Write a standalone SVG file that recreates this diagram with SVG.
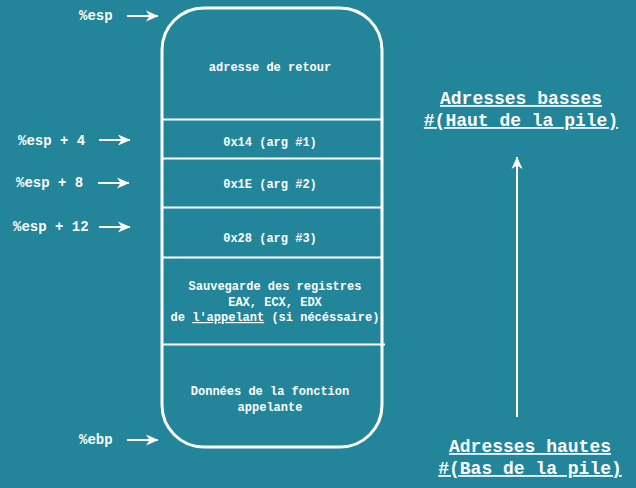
<svg xmlns="http://www.w3.org/2000/svg" width="636" height="488" viewBox="0 0 636 488">
<defs>
<marker id="ah" markerWidth="13" markerHeight="12" refX="12" refY="6" orient="auto" markerUnits="userSpaceOnUse">
<path d="M0,0.5 L12.5,6 L0,11.5 L3.5,6 Z" fill="#ffffff"/>
</marker>
<style>
.t{font-family:"Liberation Mono","DejaVu Sans Mono",monospace;font-weight:bold;fill:#ffffff;}
.s{font-size:12px;text-anchor:middle;}
.l{font-size:14px;}
.h{font-size:18px;text-anchor:middle;text-decoration:underline;}
.ln{stroke:#ffffff;stroke-width:2;fill:none;}
.ar{stroke:#ffffff;stroke-width:2;fill:none;marker-end:url(#ah);}
</style>
</defs>
<rect x="0" y="0" width="636" height="488" fill="#22859a"/>
<g id="stack">
<rect x="162" y="8" width="220" height="439" rx="42" ry="42" stroke="#ffffff" stroke-width="3" fill="none"/>
<line class="ln" x1="162" y1="119.5" x2="382" y2="119.5"/>
<line class="ln" x1="162" y1="158.5" x2="382" y2="158.5"/>
<line class="ln" x1="162" y1="207.5" x2="382" y2="207.5"/>
<line class="ln" x1="162" y1="257.5" x2="382" y2="257.5"/>
<line class="ln" x1="162" y1="344.5" x2="385" y2="344.5"/>
</g>
<g id="cell-retour"><text class="t s" x="270" y="71">adresse de retour</text></g>
<g id="cell-arg1"><text class="t s" x="270" y="146">0x14 (arg #1)</text></g>
<g id="cell-arg2"><text class="t s" x="270" y="188">0x1E (arg #2)</text></g>
<g id="cell-arg3"><text class="t s" x="270" y="242">0x28 (arg #3)</text></g>
<g id="cell-regs">
<text class="t s" x="275" y="290">Sauvegarde des registres</text>
<text class="t s" x="275" y="306">EAX, ECX, EDX</text>
<text class="t s" x="275" y="321">de <tspan text-decoration="underline">l'appelant</tspan> (si nécéssaire)</text>
</g>
<g id="cell-donnees">
<text class="t s" x="270" y="395">Données de la fonction</text>
<text class="t s" x="270" y="411">appelante</text>
</g>
<g id="lbl-esp"><text class="t l" x="79" y="20">%esp</text></g>
<g id="lbl-esp4"><text class="t l" x="18" y="145">%esp + 4</text></g>
<g id="lbl-esp8"><text class="t l" x="16" y="187">%esp + 8</text></g>
<g id="lbl-esp12"><text class="t l" x="13" y="231">%esp + 12</text></g>
<g id="lbl-ebp"><text class="t l" x="79" y="444">%ebp</text></g>
<g id="lbl-low">
<text class="t h" x="521" y="104">Adresses basses</text>
<text class="t h" x="521" y="126">#(Haut de la pile)</text>
</g>
<g id="lbl-high">
<text class="t h" x="530" y="452">Adresses hautes</text>
<text class="t h" x="530" y="474">#(Bas de la pile)</text>
</g>
<g id="connectors">
<line class="ar" x1="127" y1="16" x2="158" y2="16"/>
<line class="ar" x1="99" y1="140" x2="130" y2="140"/>
<line class="ar" x1="98" y1="183" x2="129" y2="183"/>
<line class="ar" x1="99" y1="227" x2="130" y2="227"/>
<line class="ar" x1="127" y1="440" x2="158" y2="440"/>
<line class="ar" x1="517" y1="417" x2="517" y2="157"/>
</g>
</svg>
